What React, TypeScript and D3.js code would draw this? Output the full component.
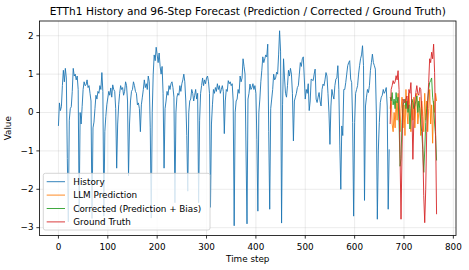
import { useMemo } from "react";
import { scaleLinear, line, min, max } from "d3";

const TITLE =
  "ETTh1 History and 96-Step Forecast (Prediction / Corrected / Ground Truth)";

// history is sampled every 2 steps, forecasts start right after it
const STEP = 2;
const FORECAST_START = 672;
const HORIZON = 96;

// prettier-ignore
const history = [
  -0.35, 0.25, 0.05, 0.15, 0.7, 1.1, 0.8, 1.15, 0.9, -1.2, -2.85, -0.2,
  0.1, 0.15, 0.55, 1.15, 0.95, 1.0, 0.85, 0.95, 0.6, -2.6, 0.0, -0.3,
  0.15, 0.6, 0.8, 0.7, 0.72, 0.85, 0.65, 0.7, 0.5, 0.3, -2.76, -0.4,
  -0.25, 0.1, 0.45, 0.35, 0.55, 0.5, 0.7, 0.6, 1.04, 0.55, -2.7, -0.5,
  -0.1, 0.2, 0.38, 0.55, 0.45, 0.64, 0.4, 0.72, 0.6, 0.55, 0.1, -1.45,
  -0.3, 0.2, 0.5, 0.7, 0.6, 0.65, 0.45, 0.55, 0.8, 0.7, 0.3, -1.65,
  -0.3, 0.3, 0.55, 0.6, 0.8, 0.7, 0.55, 0.5, 0.2, 0.25, 0.1, -0.5,
  0.2, 0.4, 0.6, 0.85, 0.65, 0.75, 0.6, 0.95, 0.8, -0.4, -2.75, 0.0,
  1.0, 1.5, 1.35, 1.7, 1.5, 1.3, 1.55, 1.2, 1.0, 1.2, 0.5, -1.45,
  0.1, 0.3, 0.55, 0.45, 0.7, 0.6, 0.75, 0.8, 0.65, 0.4, -2.35, 0.0,
  0.4, 0.5, 0.45, 0.7, 0.55, 0.75, 0.85, 1.0, 0.8, 0.3, -0.6, -2.05,
  0.0, 0.3, 0.35, 0.6, 0.5, 0.3, 0.45, 0.6, 0.35, 0.5, -2.35, -0.2,
  0.5, 0.7, 0.9, 0.7, 0.85, 0.75, 0.9, 0.95, 0.8, 0.5, -2.47, -0.3,
  0.2, 0.6, 0.5, 0.65, 0.55, 0.75, 0.6, 0.7, 0.5, 0.6, 0.7, 0.55,
  -0.55, 0.3, 0.6, 0.55, 0.83, 0.75, 0.8, 0.7, 0.75, 0.3, -2.95, 0.0,
  0.3, 0.35, 0.6, 0.5, 0.95, 0.8, 0.9, 1.4, 1.2, 1.0, -1.0, -2.9,
  0.35, 0.5, 0.74, 0.6, 0.65, 0.75, 0.6, 0.7, 0.5, -0.7, -2.57, 0.0,
  0.35, 0.8, 1.1, 1.45, 1.3, 1.4, 1.5, 1.45, 1.78, -0.5, -2.52, 0.1,
  0.35, 0.6, 1.0, 0.85, 0.9, 1.05, 1.0, 1.5, 2.13, 1.6, -2.88, 0.2,
  1.4, 0.9, 0.5, 0.4, 0.7, 1.1, 0.95, 1.15, 1.0, 0.5, -0.74, 0.3,
  0.4, 0.5, 0.65, 0.7, 1.0, 1.3, 1.2, 1.4, 1.45, 0.9, 0.35, 0.6,
  0.5, 0.75, 0.05, 0.3, 0.87, 0.85, 0.83, 1.0, 1.13, 0.35, 0.26, 0.4,
  0.52, 0.3, 0.17, 0.6, 0.74, 0.7, 0.85, 1.04, 0.95, 0.5, 0.0, -0.83,
  0.17, 0.6, 0.45, 0.35, 0.7, 0.87, 0.9, 1.22, 0.6, -0.87, -2.0, -0.35,
  -0.6, 0.6, 0.6, 0.78, 1.0, 1.22, 1.3, 1.35, 0.87, 0.78, -0.26, -2.7,
  -0.26, 0.5, 0.6, 0.7, 1.0, 1.22, 1.4, 1.5, 1.74, 1.22, -2.29, 0.17,
  0.4, 0.6, 0.52, 0.7, 1.1, 1.3, 1.52, 1.3, 1.22, 1.13, 0.0, -2.78,
  -1.0, -0.26, 0.26, 0.4, 0.45, 0.6, 0.5, 0.55, 0.65, 0.17, -2.52, -0.96,
];

// prettier-ignore
const llmPrediction = [
  0.1, 0.4, -0.3, -0.5, 0.0, -0.4, 0.3, -0.2, 0.5, -0.1,
  -0.5, 0.1, 0.4, -0.4, 0.2, -0.6, 0.6, 0.0, -0.3, 0.5,
  0.1, -0.5, 0.3, -0.2, 0.4, -0.4, 0.2, 0.5, -0.3, 0.0,
  0.4, -0.6, 0.3, -0.1, -0.5, 0.5, -0.2, 0.3, -0.5, 0.1,
  0.6, -0.3, 0.2, -0.8, 0.3, 0.0, 0.5, 0.3,
];

// prettier-ignore
const corrected = [
  0.4, 0.3, 0.52, 0.2, 0.35, 0.1, 0.52, 0.25, 0.4, -0.26,
  -1.4, -1.2, -0.26, 0.17, 0.3, 0.35, 0.1, 0.3, 0.0, 0.2,
  -0.43, 0.1, 0.35, 0.26, 0.1, 0.17, 0.3, 0.43, 0.0, 0.3,
  0.1, -0.3, -0.5, -0.96, -1.56, -1.0, -0.26, 0.1, 0.3, 0.6,
  0.78, 0.83, 0.9, 0.4, 0.2, -0.3, -0.6, -1.25,
];

// prettier-ignore
const groundTruth = [
  -0.3, 0.6, 0.7, 0.83, 0.75, 0.8, 0.96, 0.85, 1.09, 0.6,
  -1.1, -2.78, -1.0, 0.35, 0.3, 0.25, 0.35, 0.43, 0.1, 0.6,
  0.5, 0.78, 0.1, -1.22, -0.2, 0.3, 0.52, 0.7, 0.5, 0.45,
  0.65, 0.6, 0.1, -0.8, -2.17, -2.87, -2.0, -0.5, 0.3, 0.78,
  1.4, 1.3, 1.57, 1.4, 1.78, 1.04, -0.5, -2.65,
];

const xTicks = [0, 100, 200, 300, 400, 500, 600, 700, 800];
const yTicks = [-3, -2, -1, 0, 1, 2];

const SERIES = [
  { label: "History", color: "#1f77b4", values: history, start: 0 },
  { label: "LLM Prediction", color: "#ff7f0e", values: llmPrediction, start: FORECAST_START },
  { label: "Corrected (Prediction + Bias)", color: "#2ca02c", values: corrected, start: FORECAST_START },
  { label: "Ground Truth", color: "#d62728", values: groundTruth, start: FORECAST_START },
];

const W = 469;
const H = 270;
const margin = { top: 21, right: 13, bottom: 34.5, left: 39.5 };
const FONT = "DejaVu Sans, sans-serif";

const fmt = (v: number) => (v < 0 ? `\u2212${Math.abs(v)}` : `${v}`);

export default function App() {
  const w = W - margin.left - margin.right;
  const h = H - margin.top - margin.bottom;

  const { x, y } = useMemo(() => {
    const xMax = FORECAST_START + HORIZON - 1;
    const all = SERIES.flatMap((s) => s.values);
    const lo = min(all) ?? 0;
    const hi = max(all) ?? 1;
    const px = xMax * 0.05;
    const py = (hi - lo) * 0.05;
    return {
      x: scaleLinear().domain([-px, xMax + px]).range([0, w]),
      y: scaleLinear().domain([lo - py, hi + py]).range([h, 0]),
    };
  }, [w, h]);

  const lineFn = line<[number, number]>()
    .x((d) => x(d[0]))
    .y((d) => y(d[1]));

  return (
    <svg
      width={W}
      height={H}
      style={{ position: "absolute", left: 0, top: 0, background: "#fff" }}
      fontFamily={FONT}
    >
      <text x={margin.left + w / 2} y={15} textAnchor="middle" fontSize={10.6} fill="#000">
        {TITLE}
      </text>
      <g transform={`translate(${margin.left},${margin.top})`}>
        {xTicks.map((t) => (
          <line key={`gx${t}`} x1={x(t)} x2={x(t)} y1={0} y2={h} stroke="#b0b0b0" strokeOpacity={0.3} strokeWidth={0.8} />
        ))}
        {yTicks.map((t) => (
          <line key={`gy${t}`} x1={0} x2={w} y1={y(t)} y2={y(t)} stroke="#b0b0b0" strokeOpacity={0.3} strokeWidth={0.8} />
        ))}

        {SERIES.map((s) => (
          <path
            key={s.label}
            d={lineFn(s.values.map((v, i) => [s.start + i * STEP, v])) ?? ""}
            fill="none"
            stroke={s.color}
            strokeWidth={1}
            strokeOpacity={0.9}
            strokeLinejoin="round"
          />
        ))}

        <rect x={0} y={0} width={w} height={h} fill="none" stroke="#000" strokeWidth={0.8} />

        {xTicks.map((t) => (
          <g key={`tx${t}`} transform={`translate(${x(t)},${h})`}>
            <line y2={3.1} stroke="#000" strokeWidth={0.8} />
            <text y={14} textAnchor="middle" fontSize={8.8} fill="#000">
              {t}
            </text>
          </g>
        ))}
        {yTicks.map((t) => (
          <g key={`ty${t}`} transform={`translate(0,${y(t)})`}>
            <line x2={-3.1} stroke="#000" strokeWidth={0.8} />
            <text x={-6} dy="0.32em" textAnchor="end" fontSize={8.8} fill="#000">
              {fmt(t)}
            </text>
          </g>
        ))}

        <text x={w / 2} y={h + 26.5} textAnchor="middle" fontSize={8.8} fill="#000">
          Time step
        </text>
        <text
          transform={`translate(${-29},${h / 2}) rotate(-90)`}
          textAnchor="middle"
          fontSize={8.8}
          fill="#000"
        >
          Value
        </text>

        <g transform={`translate(${43.3 - margin.left},${173.3 - margin.top})`}>
          <rect width={166.7} height={56.7} rx={2} fill="#fff" fillOpacity={0.8} stroke="#cccccc" strokeWidth={0.8} />
          {SERIES.map((s, i) => (
            <g key={`lg${s.label}`} transform={`translate(0,${8.4 + i * 13.4})`}>
              <line x1={3.4} x2={21.7} stroke={s.color} strokeWidth={1} strokeOpacity={0.9} />
              <text x={30} dy="0.35em" fontSize={8.8} fill="#000">
                {s.label}
              </text>
            </g>
          ))}
        </g>
      </g>
    </svg>
  );
}
